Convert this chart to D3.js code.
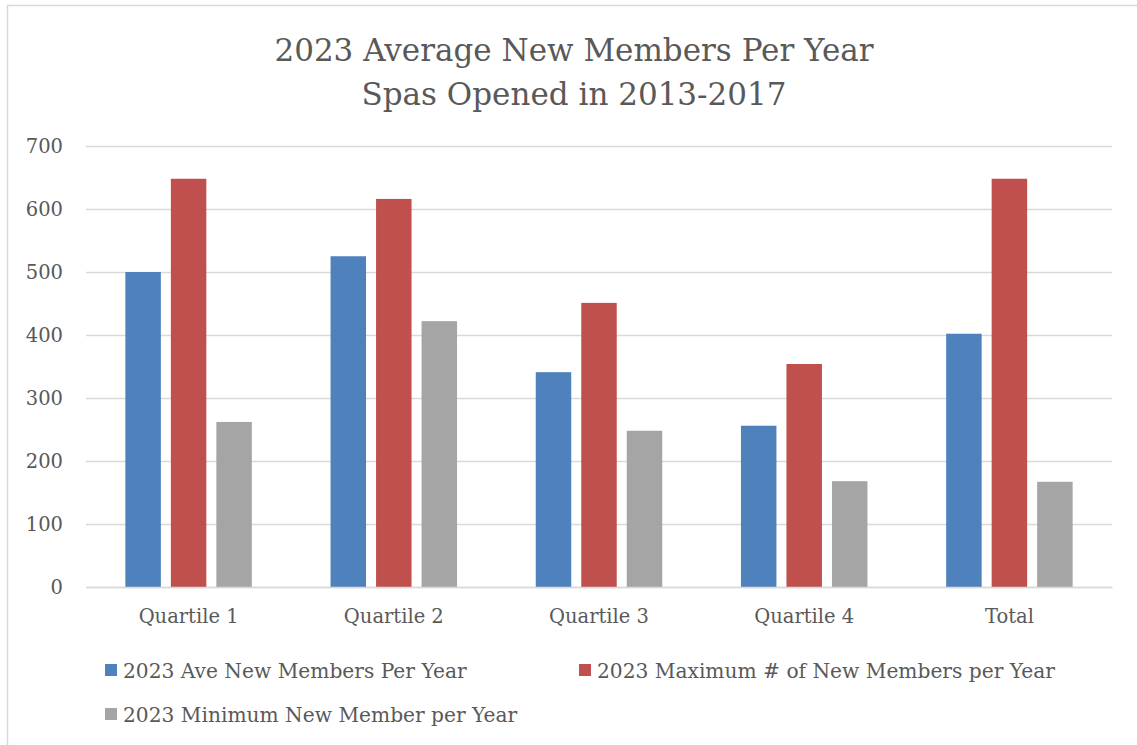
<!DOCTYPE html>
<html>
<head>
<meta charset="utf-8">
<script src="https://cdn.jsdelivr.net/npm/d3@7"></script>
<style>
  body { margin: 0; background: #fff; }
  text { font-family: "DejaVu Serif", serif; fill: #595959; }
</style>
</head>
<body>
<div id="graf"></div>
<script>
const categorias = ['Quartile 1', 'Quartile 2', 'Quartile 3', 'Quartile 4', 'Total']
const series = ['2023 Ave New Members Per Year', '2023 Maximum # of New Members per Year', '2023 Minimum New Member per Year']
const promedio = [500, 525, 341, 256, 402]
const maximo = [648, 616, 451, 354, 648]
const minimo = [262, 422, 248, 168, 167]
const yTicks = [0, 100, 200, 300, 400, 500, 600, 700]
const colores = ['#4F81BD', '#C0504D', '#A5A5A5']

const ancho = 1137
const alto = 745
const margins = { left: 86, right: 1112, top: 146, bottom: 587 }
const fuente = '"DejaVu Serif", serif'

const svg = d3.select('#graf')
  .append('svg')
  .attr('width', ancho)
  .attr('height', alto)

// borde del grafico
svg.append('rect')
  .attr('x', 7.5)
  .attr('y', 5.5)
  .attr('width', 1140)
  .attr('height', 760)
  .attr('fill', 'none')
  .attr('stroke', '#d9d9d9')
  .attr('stroke-width', 1.5)

// titulo
const titulo = svg.append('text')
  .attr('text-anchor', 'middle')
  .style('font-size', '31px')
titulo.append('tspan').attr('x', 574).attr('y', 61).text('2023 Average New Members Per Year')
titulo.append('tspan').attr('x', 574).attr('y', 105).text('Spas Opened in 2013-2017')

const y = d3.scaleLinear()
  .domain([0, 700])
  .range([margins.bottom, margins.top])

const x0 = d3.scaleBand()
  .domain(categorias)
  .range([margins.left, margins.right])

const x1 = d3.scaleBand()
  .domain(series)
  .range([0, x0.bandwidth()])
  .paddingInner(0.22)
  .paddingOuter(0.865)

// lineas de la grilla
const yAxis = d3.axisLeft(y)
  .tickValues(yTicks)
  .tickSize(-(margins.right - margins.left))
  .tickPadding(23)

svg.append('g')
  .attr('transform', `translate(${margins.left}, 0)`)
  .call(yAxis)
  .call(g => g.select('.domain').remove())
  .call(g => g.selectAll('.tick line').attr('stroke', '#d9d9d9').attr('stroke-width', 1.5))
  .call(g => g.selectAll('.tick text').style('font-size', '19.5px').style('font-family', fuente).attr('fill', '#595959'))

const datos = categorias.map((c, i) => ({ cat: c, valores: [promedio[i], maximo[i], minimo[i]] }))

const grupos = svg.append('g')
  .selectAll('g')
  .data(datos)
  .enter()
  .append('g')
  .attr('transform', d => `translate(${x0(d.cat)}, 0)`)

grupos.selectAll('rect')
  .data(d => d.valores.map((v, j) => ({ serie: series[j], valor: v, j })))
  .enter()
  .append('rect')
  .attr('x', d => x1(d.serie))
  .attr('y', d => y(d.valor))
  .attr('width', x1.bandwidth())
  .attr('height', d => y(0) - y(d.valor))
  .attr('fill', d => colores[d.j])

// eje x
const xAxis = d3.axisBottom(x0).tickSize(0).tickPadding(22)
svg.append('g')
  .attr('transform', `translate(0, ${margins.bottom})`)
  .call(xAxis)
  .call(g => g.select('.domain').attr('stroke', '#d9d9d9').attr('stroke-width', 1.5))
  .call(g => g.selectAll('.tick text').style('font-size', '19.5px').style('font-family', fuente).attr('fill', '#595959'))

// leyenda
const leyenda = [
  { x: 105, y: 670 },
  { x: 579, y: 670 },
  { x: 105, y: 714 }
]
const items = svg.append('g')
  .selectAll('g')
  .data(series)
  .enter()
  .append('g')
  .attr('transform', (d, i) => `translate(${leyenda[i].x}, ${leyenda[i].y})`)

items.append('rect')
  .attr('x', 0)
  .attr('y', -6)
  .attr('width', 12)
  .attr('height', 12)
  .attr('fill', (d, i) => colores[i])

items.append('text')
  .attr('x', 18)
  .attr('y', 8)
  .style('font-size', '20.2px')
  .text(d => d)
</script>
</body>
</html>
